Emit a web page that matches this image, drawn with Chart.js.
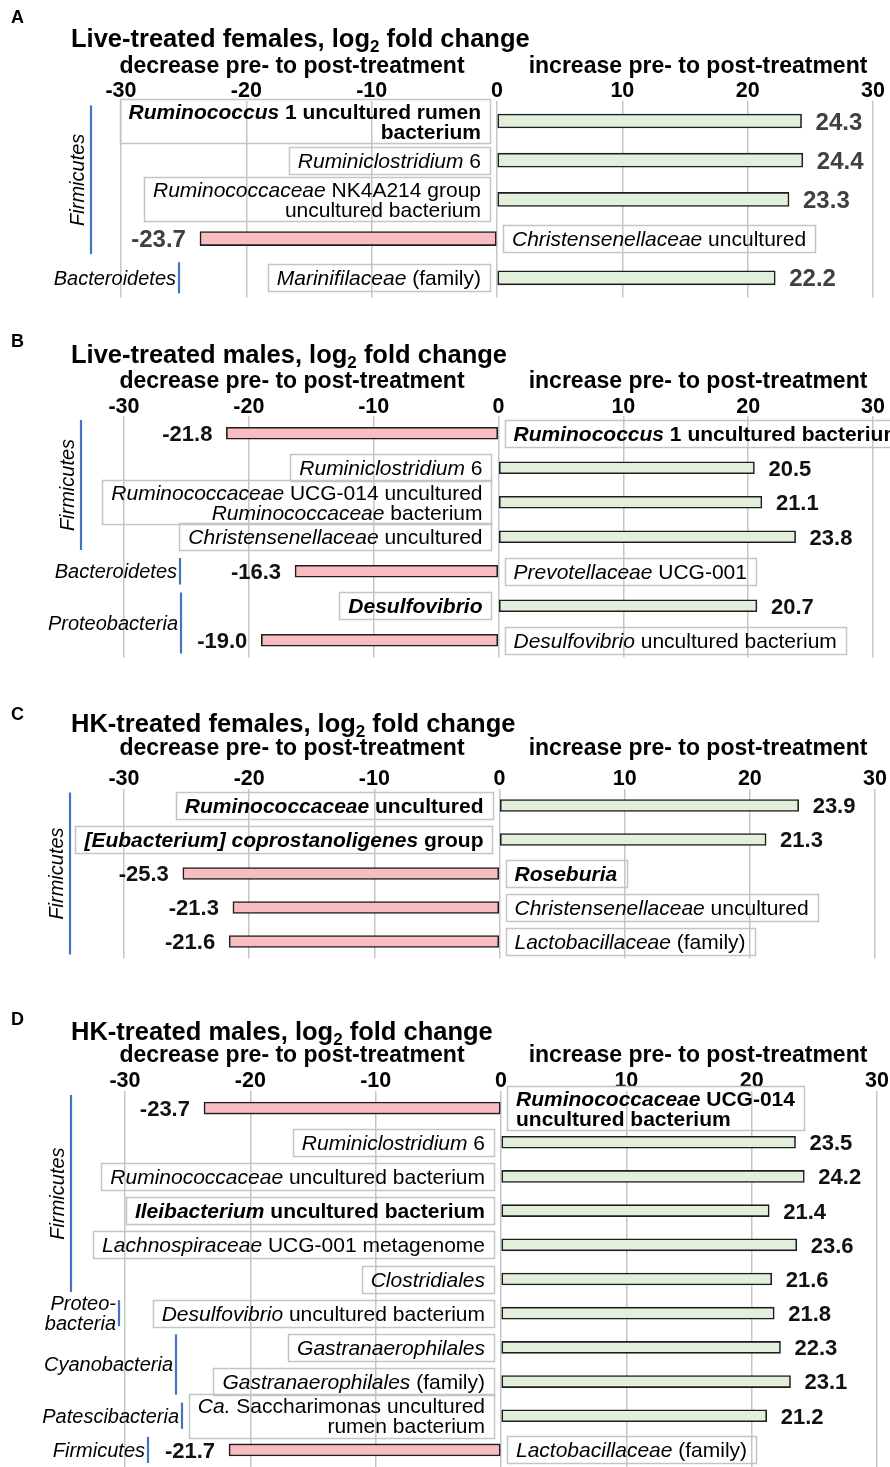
<!DOCTYPE html>
<html>
<head>
<meta charset="utf-8">
<title>log2 fold change of taxa, pre- to post-treatment</title>
<script src="https://cdn.jsdelivr.net/npm/chart.js@4.4.1/dist/chart.umd.min.js"></script>
<style>
  html, body { margin: 0; padding: 0; background: #ffffff; }
  #page { position: relative; width: 890px; height: 1467px; overflow: hidden; }
  #page canvas { position: absolute; left: 0; top: 0; pointer-events: none; }
</style>
</head>
<body>
<div id="page">
  <canvas id="panelA" width="890" height="1467"></canvas>
  <canvas id="panelB" width="890" height="1467"></canvas>
  <canvas id="panelC" width="890" height="1467"></canvas>
  <canvas id="panelD" width="890" height="1467"></canvas>
</div>
<script>
// ---------------- data ----------------
// Taxon names: text between underscores is set in italics, "\n" breaks the line.
const xTicks = [-30, -20, -10, 0, 10, 20, 30];
const leftHeading = "decrease pre- to post-treatment";
const rightHeading = "increase pre- to post-treatment";

// A: live-treated females
const titleA = "Live-treated females";
const taxaA = [
  "_Ruminococcus_ 1 uncultured rumen\nbacterium",
  "_Ruminiclostridium_ 6",
  "_Ruminococcaceae_ NK4A214 group\nuncultured bacterium",
  "_Christensenellaceae_ uncultured",
  "_Marinifilaceae_ (family)"
];
const log2fcA = [24.3, 24.4, 23.3, -23.7, 22.2];
const boldA = [true, false, false, false, false];
const phylaA = [["Firmicutes", 0, 3], ["Bacteroidetes", 4, 4]];

// B: live-treated males
const titleB = "Live-treated males";
const taxaB = [
  "_Ruminococcus_ 1 uncultured bacterium",
  "_Ruminiclostridium_ 6",
  "_Ruminococcaceae_ UCG-014 uncultured\n_Ruminococcaceae_ bacterium",
  "_Christensenellaceae_ uncultured",
  "_Prevotellaceae_ UCG-001",
  "_Desulfovibrio_",
  "_Desulfovibrio_ uncultured bacterium"
];
const log2fcB = [-21.8, 20.5, 21.1, 23.8, -16.3, 20.7, -19.0];
const boldB = [true, false, false, false, false, true, false];
const phylaB = [["Firmicutes", 0, 3], ["Bacteroidetes", 4, 4], ["Proteobacteria", 5, 6]];

// C: HK-treated females
const titleC = "HK-treated females";
const taxaC = [
  "_Ruminococcaceae_ uncultured",
  "_[Eubacterium] coprostanoligenes_ group",
  "_Roseburia_",
  "_Christensenellaceae_ uncultured",
  "_Lactobacillaceae_ (family)"
];
const log2fcC = [23.9, 21.3, -25.3, -21.3, -21.6];
const boldC = [true, true, true, false, false];
const phylaC = [["Firmicutes", 0, 4]];

// D: HK-treated males
const titleD = "HK-treated males";
const taxaD = [
  "_Ruminococcaceae_ UCG-014\nuncultured bacterium",
  "_Ruminiclostridium_ 6",
  "_Ruminococcaceae_ uncultured bacterium",
  "_Ileibacterium_ uncultured bacterium",
  "_Lachnospiraceae_ UCG-001 metagenome",
  "_Clostridiales_",
  "_Desulfovibrio_ uncultured bacterium",
  "_Gastranaerophilales_",
  "_Gastranaerophilales_ (family)",
  "_Ca._ Saccharimonas uncultured\nrumen bacterium",
  "_Lactobacillaceae_ (family)"
];
const log2fcD = [-23.7, 23.5, 24.2, 21.4, 23.6, 21.6, 21.8, 22.3, 23.1, 21.2, -21.7];
const boldD = [true, false, false, true, false, false, false, false, false, false, false];
const phylaD = [["Firmicutes", 0, 5], ["Proteo-\nbacteria", 6, 6], ["Cyanobacteria", 7, 8],
                ["Patescibacteria", 9, 9], ["Firmicutes", 10, 10]];

// ---------------- styling / layout ----------------
const FAMILY = '"Liberation Sans", Arial, Helvetica, sans-serif';
const PAGE_W = 890, PAGE_H = 1467;
const GREEN = '#e2efda', PINK = '#f8bcc1', BAR_EDGE = '#1e1e1e';
const GRID = '#c6c6c6', BOX_EDGE = '#c4c4c4', PHYLUM_BLUE = '#4472c4';
const LABEL_SIZE = 21, TITLE_SIZE = 25.5, HEAD_SIZE = 23, TICK_SIZE = 21.5;

const panels = [
  { id: 'panelA', letter: 'A', title: titleA, taxa: taxaA, values: log2fcA, bold: boldA, phyla: phylaA,
    area: { left: 121, right: 873, top: 101.4, bottom: 297.4 }, barThickness: 14,
    letterY: 23, titleY: 47, headY: 73, tickY: 97,
    valueSize: 24, valueColor: '#404040', phylumLineX: [91, 179] },
  { id: 'panelB', letter: 'B', title: titleB, taxa: taxaB, values: log2fcB, bold: boldB, phyla: phylaB,
    area: { left: 124, right: 873, top: 416, bottom: 657.5 }, barThickness: 12,
    letterY: 347, titleY: 363, headY: 388, tickY: 413,
    valueSize: 22, valueColor: '#111111', phylumLineX: [81, 180, 181] },
  { id: 'panelC', letter: 'C', title: titleC, taxa: taxaC, values: log2fcC, bold: boldC, phyla: phylaC,
    area: { left: 124, right: 875, top: 788.5, bottom: 958.5 }, barThickness: 12,
    letterY: 720, titleY: 732, headY: 755, tickY: 785,
    valueSize: 22, valueColor: '#111111', phylumLineX: [70] },
  { id: 'panelD', letter: 'D', title: titleD, taxa: taxaD, values: log2fcD, bold: boldD, phyla: phylaD,
    area: { left: 125, right: 877, top: 1091, bottom: 1470.5 }, barThickness: 12,
    letterY: 1025, titleY: 1040, headY: 1062, tickY: 1087,
    valueSize: 22, valueColor: '#111111', phylumLineX: [71, 119, 176, 182, 148] }
];

// ---------------- text helpers ----------------
function font(size, bold, italic) {
  return (italic ? 'italic ' : '') + (bold ? 'bold ' : '') + size + 'px ' + FAMILY;
}
function parseRich(line) {
  return line.split('_').map((t, i) => ({ t: t, it: i % 2 === 1 })).filter(s => s.t.length > 0);
}
function richWidth(ctx, segs, size, bold) {
  let w = 0;
  for (const s of segs) { ctx.font = font(size, bold, s.it); w += ctx.measureText(s.t).width; }
  return w;
}
function drawRich(ctx, segs, x, y, size, bold) {
  let cx = x;
  for (const s of segs) {
    ctx.font = font(size, bold, s.it);
    ctx.fillText(s.t, cx, y);
    cx += ctx.measureText(s.t).width;
  }
}

// ---------------- annotation plugin ----------------
const panelDecor = {
  id: 'panelDecor',
  afterDraw(chart, args, p) {
    const ctx = chart.ctx;
    const xs = chart.scales.x, ys = chart.scales.y;
    const x0 = xs.getPixelForValue(0);
    const rowH = Math.abs(ys.getPixelForValue(1) - ys.getPixelForValue(0));
    ctx.save();
    ctx.fillStyle = '#000';
    ctx.textBaseline = 'alphabetic';

    // panel letter
    ctx.font = font(18, true, false);
    ctx.textAlign = 'left';
    ctx.fillText(p.letter, 11, p.letterY);

    // title with subscript
    let tx = 71;
    ctx.font = font(TITLE_SIZE, true, false);
    const t1 = p.title + ', log';
    ctx.fillText(t1, tx, p.titleY); tx += ctx.measureText(t1).width;
    ctx.font = font(Math.round(TITLE_SIZE * 0.65), true, false);
    ctx.fillText('2', tx, p.titleY + 5); tx += ctx.measureText('2').width;
    ctx.font = font(TITLE_SIZE, true, false);
    ctx.fillText(' fold change', tx, p.titleY);

    // half-axis headings
    ctx.font = font(HEAD_SIZE, true, false);
    ctx.textAlign = 'center';
    ctx.fillText(leftHeading, 292, p.headY);
    ctx.fillText(rightHeading, 698, p.headY);

    // tick labels
    ctx.font = font(TICK_SIZE, true, false);
    for (const v of xTicks) ctx.fillText(String(v), xs.getPixelForValue(v), p.tickY);

    // taxon boxes and value labels
    p.taxa.forEach((name, i) => {
      const v = p.values[i];
      const cy = ys.getPixelForValue(i);
      const end = xs.getPixelForValue(v);
      const b = p.bold[i];
      const lines = name.split('\n').map(parseRich);
      const widths = lines.map(l => richWidth(ctx, l, LABEL_SIZE, b));
      const maxW = Math.max.apply(null, widths);
      const pad = 9;
      const boxW = maxW + 2 * pad;
      const boxH = 27 + 17 * (lines.length - 1);
      const boxTop = cy - boxH / 2;
      const boxLeft = v >= 0 ? x0 - 7 - boxW : x0 + 6;
      ctx.strokeStyle = BOX_EDGE;
      ctx.lineWidth = 1.5;
      ctx.strokeRect(Math.round(boxLeft) + 0.5, Math.round(boxTop) + 0.5, Math.round(boxW), Math.round(boxH));
      ctx.fillStyle = '#000';
      ctx.textAlign = 'left';
      lines.forEach((segs, k) => {
        const lineCy = cy + (k - (lines.length - 1) / 2) * 20;
        const base = lineCy + LABEL_SIZE * 0.36;
        const lx = v >= 0 ? boxLeft + boxW - pad - widths[k] : boxLeft + pad;
        drawRich(ctx, segs, lx, base, LABEL_SIZE, b);
      });

      // value label at the bar end
      ctx.font = font(p.valueSize, true, false);
      ctx.fillStyle = p.valueColor;
      ctx.textAlign = v >= 0 ? 'left' : 'right';
      ctx.fillText(v.toFixed(1), v >= 0 ? end + 14 : end - 14, cy + p.valueSize * 0.36);
    });

    // phylum brackets
    ctx.fillStyle = '#000';
    p.phyla.forEach((g, j) => {
      const [label, first, last] = g;
      const lx = p.phylumLineX[j];
      const yTop = ys.getPixelForValue(first) - rowH / 2 + 4;
      const yBot = Math.min(ys.getPixelForValue(last) + rowH / 2 - 4, PAGE_H);
      ctx.strokeStyle = PHYLUM_BLUE;
      ctx.lineWidth = 2.2;
      ctx.beginPath(); ctx.moveTo(lx, yTop); ctx.lineTo(lx, yBot); ctx.stroke();
      ctx.font = font(20, false, true);
      const mid = (yTop + yBot) / 2;
      if (last - first >= 3) {
        ctx.save();
        ctx.translate(lx - 14, mid);
        ctx.rotate(-Math.PI / 2);
        ctx.textAlign = 'center';
        ctx.fillText(label, 0, 7);
        ctx.restore();
      } else {
        const parts = label.split('\n');
        ctx.textAlign = 'right';
        parts.forEach((s, k) => {
          const c = mid + (k - (parts.length - 1) / 2) * 20;
          ctx.fillText(s, lx - 3, c + 7);
        });
      }
    });
    ctx.restore();
  }
};
Chart.register(panelDecor);

// ---------------- charts ----------------
panels.forEach(p => {
  new Chart(document.getElementById(p.id), {
    type: 'bar',
    data: {
      labels: p.taxa,
      datasets: [{
        data: p.values,
        backgroundColor: ctx => (ctx.raw < 0 ? PINK : GREEN),
        borderColor: BAR_EDGE,
        borderWidth: 1.6,
        borderSkipped: false,
        barThickness: p.barThickness
      }]
    },
    options: {
      indexAxis: 'y',
      responsive: false,
      devicePixelRatio: 1,
      animation: false,
      layout: {
        padding: {
          left: p.area.left,
          right: PAGE_W - p.area.right,
          top: p.area.top,
          bottom: PAGE_H - p.area.bottom
        }
      },
      scales: {
        x: {
          type: 'linear', position: 'top', min: -30, max: 30,
          ticks: { display: false, stepSize: 10 },
          grid: { color: GRID, lineWidth: 1.5, drawTicks: false },
          border: { display: false }
        },
        y: { type: 'category', display: false, grid: { display: false } }
      },
      plugins: {
        legend: { display: false },
        tooltip: { enabled: false },
        title: { display: false },
        panelDecor: p
      }
    }
  });
});
</script>
</body>
</html>
